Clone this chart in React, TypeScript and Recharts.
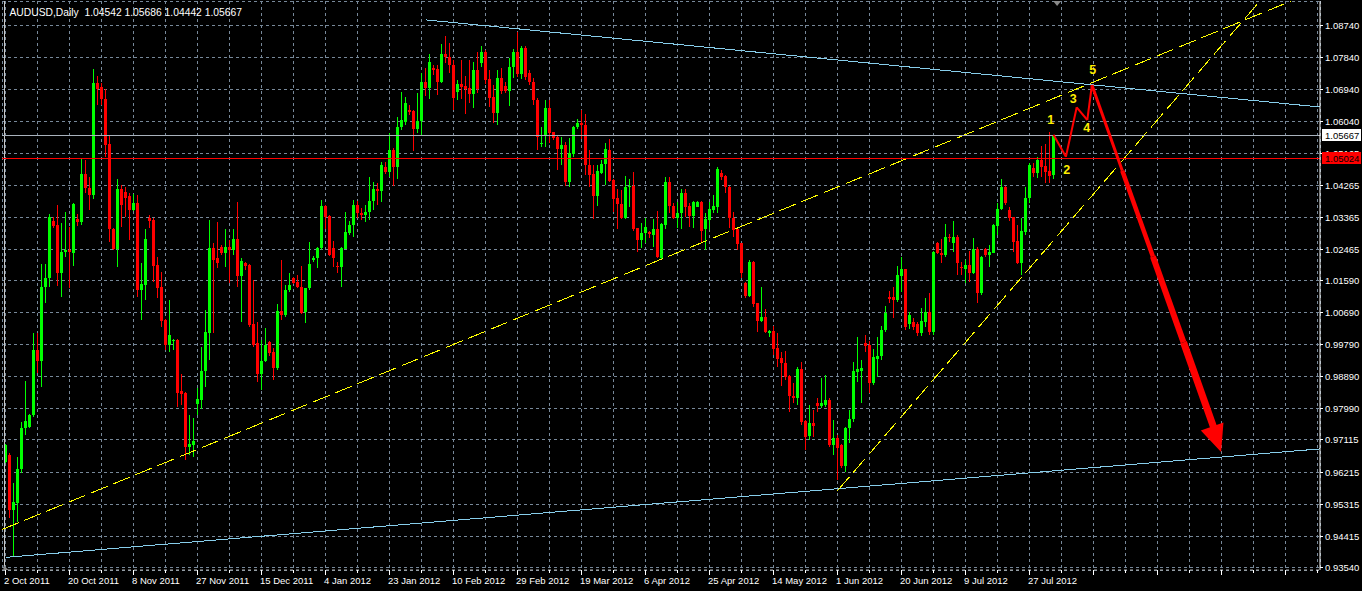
import React from "react"
import { ComposedChart, Bar, XAxis, YAxis, CartesianGrid, ReferenceLine, ReferenceDot } from "recharts"

// daily AUDUSD bars (bar 0 = Sun 2 Oct 2011)
const opens = [
  0.9650, 0.9669, 0.9515, 0.9535, 0.9629, 0.9744, 0.9749, 0.9781, 0.9964, 0.9934,
  1.0140, 1.0165, 1.0325, 1.0315, 1.0179, 1.0238, 1.0245, 1.0235, 1.0331, 1.0324,
  1.0458, 1.0418, 1.0399, 1.0712, 1.0703, 1.0667, 1.0542, 1.0303, 1.0246, 1.0416,
  1.0406, 1.0397, 1.0357, 1.0376, 1.0132, 1.0146, 1.0335, 1.0329, 1.0202, 1.0140,
  1.0048, 0.9978, 0.9990, 0.9992, 0.9849, 0.9844, 0.9693, 0.9697, 0.9812, 0.9824,
  0.9904, 1.0012, 1.0251, 1.0221, 1.0254, 1.0235, 1.0254, 1.0245, 1.0275, 1.0172,
  1.0209, 1.0202, 1.0037, 0.9984, 0.9897, 0.9934, 0.9986, 0.9959, 0.9913, 1.0073,
  1.0062, 1.0132, 1.0167, 1.0155, 1.0142, 1.0071, 1.0137, 1.0216, 1.0221, 1.0251,
  1.0369, 1.0340, 1.0251, 1.0200, 1.0196, 1.0248, 1.0293, 1.0315, 1.0371, 1.0348,
  1.0343, 1.0351, 1.0382, 1.0416, 1.0411, 1.0478, 1.0464, 1.0525, 1.0477, 1.0589,
  1.0604, 1.0637, 1.0635, 1.0584, 1.0606, 1.0717, 1.0700, 1.0754, 1.0752, 1.0717,
  1.0794, 1.0785, 1.0764, 1.0689, 1.0710, 1.0705, 1.0699, 1.0682, 1.0750, 1.0768,
  1.0800, 1.0724, 1.0674, 1.0630, 1.0727, 1.0705, 1.0691, 1.0757, 1.0800, 1.0738,
  1.0811, 1.0742, 1.0717, 1.0665, 1.0542, 1.0567, 1.0642, 1.0575, 1.0561, 1.0528,
  1.0539, 1.0436, 1.0514, 1.0589, 1.0602, 1.0595, 1.0483, 1.0458, 1.0397, 1.0461,
  1.0486, 1.0525, 1.0441, 1.0391, 1.0374, 1.0333, 1.0422, 1.0424, 1.0305, 1.0273,
  1.0291, 1.0296, 1.0287, 1.0303, 1.0221, 1.0315, 1.0436, 1.0368, 1.0335, 1.0347,
  1.0404, 1.0368, 1.0340, 1.0366, 1.0380, 1.0303, 1.0329, 1.0357, 1.0366, 1.0461,
  1.0452, 1.0422, 1.0335, 1.0303, 1.0263, 1.0151, 1.0116, 1.0212, 1.0095, 1.0046,
  1.0057, 1.0011, 1.0017, 0.9970, 0.9941, 0.9928, 0.9891, 0.9836, 0.9830, 0.9911,
  0.9765, 0.9723, 0.9760, 0.9814, 0.9807, 0.9810, 0.9824, 0.9697, 0.9718, 0.9697,
  0.9638, 0.9744, 0.9769, 0.9903, 0.9905, 0.9984, 0.9978, 0.9870, 0.9939, 0.9948,
  1.0020, 1.0113, 1.0113, 1.0104, 1.0172, 1.0190, 1.0037, 1.0043, 1.0037, 1.0012,
  1.0043, 1.0071, 1.0014, 1.0265, 1.0237, 1.0230, 1.0282, 1.0263, 1.0280, 1.0198,
  1.0190, 1.0202, 1.0179, 1.0247, 1.0123, 1.0247, 1.0230, 1.0237, 1.0312, 1.0359,
  1.0422, 1.0357, 1.0336, 1.0270, 1.0209, 1.0296, 1.0390, 1.0475, 1.0460, 1.0497,
  1.0480, 1.0466, 1.04542,
]
const highs = [
  0.9700, 0.9675, 0.9591, 0.9664, 0.9763, 0.9878, 0.9784, 1.0011, 1.0011, 1.0205,
  1.0205, 1.0346, 1.0336, 1.0371, 1.0319, 1.0350, 1.0310, 1.0376, 1.0345, 1.0500,
  1.0497, 1.0450, 1.0752, 1.0734, 1.0712, 1.0697, 1.0567, 1.0305, 1.0444, 1.0427,
  1.0422, 1.0404, 1.0401, 1.0399, 1.0207, 1.0303, 1.0343, 1.0333, 1.0226, 1.0184,
  1.0050, 1.0104, 0.9994, 0.9994, 0.9897, 0.9846, 0.9782, 0.9772, 0.9856, 0.9971,
  1.0076, 1.0329, 1.0263, 1.0324, 1.0258, 1.0303, 1.0273, 1.0303, 1.0380, 1.0221,
  1.0212, 1.0204, 1.0160, 1.0043, 0.9992, 1.0025, 0.9988, 0.9969, 1.0093, 1.0216,
  1.0146, 1.0179, 1.0169, 1.0174, 1.0200, 1.0139, 1.0268, 1.0228, 1.0253, 1.0385,
  1.0371, 1.0342, 1.0270, 1.0212, 1.0253, 1.0352, 1.0327, 1.0385, 1.0382, 1.0362,
  1.0371, 1.0450, 1.0434, 1.0432, 1.0491, 1.0491, 1.0572, 1.0530, 1.0619, 1.0689,
  1.0674, 1.0651, 1.0637, 1.0684, 1.0740, 1.0754, 1.0794, 1.0764, 1.0764, 1.0823,
  1.0845, 1.0826, 1.0778, 1.0722, 1.0778, 1.0733, 1.0778, 1.0773, 1.0799, 1.0817,
  1.0806, 1.0750, 1.0707, 1.0750, 1.0754, 1.0715, 1.0782, 1.0808, 1.0857, 1.0817,
  1.0817, 1.0750, 1.0727, 1.0671, 1.0590, 1.0665, 1.0665, 1.0577, 1.0563, 1.0562,
  1.0548, 1.0558, 1.0592, 1.0612, 1.0637, 1.0626, 1.0525, 1.0483, 1.0483, 1.0497,
  1.0546, 1.0556, 1.0444, 1.0415, 1.0413, 1.0452, 1.0443, 1.0464, 1.0306, 1.0319,
  1.0333, 1.0299, 1.0331, 1.0354, 1.0319, 1.0450, 1.0448, 1.0377, 1.0380, 1.0415,
  1.0415, 1.0376, 1.0382, 1.0382, 1.0382, 1.0347, 1.0378, 1.0399, 1.0477, 1.0469,
  1.0454, 1.0424, 1.0352, 1.0305, 1.0265, 1.0156, 1.0216, 1.0214, 1.0097, 1.0142,
  1.0078, 1.0020, 1.0031, 1.0012, 0.9959, 0.9961, 0.9893, 0.9872, 0.9915, 0.9930,
  0.9767, 0.9810, 0.9796, 0.9830, 0.9886, 0.9894, 0.9828, 0.9768, 0.9725, 0.9699,
  0.9749, 0.9796, 0.9931, 0.9999, 0.9936, 1.0006, 0.9990, 0.9967, 1.0001, 1.0031,
  1.0087, 1.0130, 1.0142, 1.0200, 1.0226, 1.0192, 1.0071, 1.0054, 1.0042, 1.0083,
  1.0109, 1.0124, 1.0242, 1.0268, 1.0275, 1.0317, 1.0289, 1.0327, 1.0287, 1.0212,
  1.0216, 1.0243, 1.0279, 1.0254, 1.0228, 1.0251, 1.0259, 1.0317, 1.0376, 1.0443,
  1.0424, 1.0366, 1.0338, 1.0315, 1.0333, 1.0422, 1.0488, 1.0488, 1.0505, 1.0536,
  1.0542, 1.0576, 1.05686,
]
const lows = [
  0.9646, 0.9493, 0.9384, 0.9482, 0.9618, 0.9725, 0.9745, 0.9777, 0.9899, 0.9861,
  1.0097, 1.0142, 1.0305, 1.0144, 1.0113, 1.0226, 1.0137, 1.0200, 1.0313, 1.0315,
  1.0404, 1.0357, 1.0387, 1.0651, 1.0651, 1.0506, 1.0268, 1.0244, 1.0198, 1.0310,
  1.0338, 1.0273, 1.0355, 1.0113, 1.0048, 1.0104, 1.0305, 1.0156, 1.0109, 1.0029,
  0.9964, 0.9959, 0.9964, 0.9803, 0.9810, 0.9655, 0.9669, 0.9663, 0.9782, 0.9798,
  0.9861, 0.9936, 1.0011, 1.0193, 1.0230, 1.0198, 1.0151, 1.0230, 1.0142, 1.0043,
  1.0188, 1.0029, 0.9973, 0.9875, 0.9852, 0.9931, 0.9947, 0.9880, 0.9908, 1.0048,
  1.0057, 1.0127, 1.0150, 1.0137, 1.0065, 1.0041, 1.0132, 1.0212, 1.0193, 1.0244,
  1.0303, 1.0228, 1.0198, 1.0179, 1.0142, 1.0246, 1.0287, 1.0282, 1.0334, 1.0329,
  1.0323, 1.0329, 1.0357, 1.0371, 1.0380, 1.0458, 1.0450, 1.0425, 1.0443, 1.0581,
  1.0595, 1.0623, 1.0523, 1.0572, 1.0567, 1.0677, 1.0668, 1.0736, 1.0679, 1.0713,
  1.0768, 1.0740, 1.0637, 1.0665, 1.0667, 1.0626, 1.0656, 1.0644, 1.0686, 1.0759,
  1.0710, 1.0645, 1.0602, 1.0595, 1.0682, 1.0684, 1.0649, 1.0726, 1.0729, 1.0723,
  1.0722, 1.0707, 1.0651, 1.0525, 1.0533, 1.0534, 1.0544, 1.0553, 1.0469, 1.0483,
  1.0424, 1.0420, 1.0506, 1.0584, 1.0555, 1.0455, 1.0420, 1.0332, 1.0368, 1.0458,
  1.0427, 1.0436, 1.0352, 1.0303, 1.0331, 1.0331, 1.0364, 1.0299, 1.0240, 1.0249,
  1.0265, 1.0277, 1.0254, 1.0221, 1.0219, 1.0303, 1.0347, 1.0331, 1.0305, 1.0303,
  1.0338, 1.0310, 1.0305, 1.0364, 1.0268, 1.0245, 1.0301, 1.0347, 1.0347, 1.0441,
  1.0404, 1.0305, 1.0282, 1.0245, 1.0165, 1.0109, 1.0113, 1.0085, 1.0015, 1.0043,
  1.0011, 1.0001, 0.9950, 0.9917, 0.9863, 0.9880, 0.9791, 0.9814, 0.9810, 0.9753,
  0.9683, 0.9711, 0.9721, 0.9791, 0.9800, 0.9805, 0.9693, 0.9669, 0.9599, 0.9632,
  0.9622, 0.9702, 0.9763, 0.9875, 0.9814, 0.9959, 0.9842, 0.9866, 0.9889, 0.9936,
  1.0014, 1.0095, 1.0053, 1.0099, 1.0127, 1.0020, 1.0022, 1.0020, 1.0003, 1.0003,
  1.0029, 1.0006, 1.0006, 1.0233, 1.0209, 1.0226, 1.0267, 1.0240, 1.0174, 1.0174,
  1.0151, 1.0156, 1.0177, 1.0097, 1.0118, 1.0226, 1.0198, 1.0235, 1.0287, 1.0357,
  1.0371, 1.0327, 1.0240, 1.0205, 1.0174, 1.0287, 1.0377, 1.0450, 1.0446, 1.0450,
  1.0432, 1.0432, 1.04442,
]
const closes = [
  0.9697, 0.9515, 0.9538, 0.9629, 0.9744, 0.9765, 0.9781, 0.9964, 0.9934, 1.0140,
  1.0165, 1.0336, 1.0313, 1.0179, 1.0238, 1.0245, 1.0238, 1.0374, 1.0324, 1.0458,
  1.0418, 1.0399, 1.0714, 1.0695, 1.0667, 1.0539, 1.0303, 1.0246, 1.0416, 1.0371,
  1.0391, 1.0357, 1.0377, 1.0132, 1.0149, 1.0275, 1.0326, 1.0200, 1.0139, 1.0045,
  0.9978, 1.0005, 0.9992, 0.9844, 0.9841, 0.9693, 0.9700, 0.9708, 0.9827, 0.9905,
  1.0015, 1.0251, 1.0216, 1.0207, 1.0235, 1.0254, 1.0245, 1.0275, 1.0172, 1.0214,
  1.0200, 1.0034, 0.9978, 0.9897, 0.9934, 0.9978, 0.9955, 0.9913, 1.0073, 1.0062,
  1.0132, 1.0146, 1.0153, 1.0142, 1.0067, 1.0137, 1.0205, 1.0223, 1.0251, 1.0369,
  1.0338, 1.0230, 1.0223, 1.0196, 1.0251, 1.0295, 1.0315, 1.0371, 1.0348, 1.0343,
  1.0351, 1.0382, 1.0416, 1.0411, 1.0483, 1.0464, 1.0525, 1.0477, 1.0589, 1.0609,
  1.0658, 1.0633, 1.0584, 1.0606, 1.0717, 1.0700, 1.0772, 1.0750, 1.0717, 1.0794,
  1.0785, 1.0764, 1.0672, 1.0710, 1.0703, 1.0695, 1.0682, 1.0750, 1.0696, 1.0800,
  1.0722, 1.0671, 1.0630, 1.0727, 1.0691, 1.0691, 1.0757, 1.0800, 1.0738, 1.0811,
  1.0729, 1.0717, 1.0665, 1.0562, 1.0546, 1.0642, 1.0572, 1.0558, 1.0528, 1.0539,
  1.0436, 1.0518, 1.0590, 1.0602, 1.0595, 1.0483, 1.0455, 1.0397, 1.0467, 1.0486,
  1.0528, 1.0439, 1.0388, 1.0373, 1.0333, 1.0422, 1.0424, 1.0303, 1.0273, 1.0291,
  1.0310, 1.0289, 1.0303, 1.0224, 1.0317, 1.0436, 1.0368, 1.0335, 1.0347, 1.0404,
  1.0366, 1.0340, 1.0380, 1.0380, 1.0299, 1.0331, 1.0360, 1.0368, 1.0472, 1.0450,
  1.0420, 1.0333, 1.0301, 1.0261, 1.0179, 1.0116, 1.0212, 1.0093, 1.0046, 1.0056,
  1.0015, 1.0017, 0.9967, 0.9939, 0.9927, 0.9889, 0.9835, 0.9830, 0.9911, 0.9763,
  0.9721, 0.9760, 0.9751, 0.9807, 0.9814, 0.9824, 0.9697, 0.9718, 0.9690, 0.9638,
  0.9746, 0.9769, 0.9906, 0.9910, 0.9914, 0.9975, 0.9870, 0.9945, 0.9948, 1.0020,
  1.0067, 1.0106, 1.0104, 1.0174, 1.0190, 1.0029, 1.0062, 1.0029, 1.0012, 1.0046,
  1.0071, 1.0014, 1.0240, 1.0235, 1.0230, 1.0282, 1.0277, 1.0280, 1.0207, 1.0193,
  1.0202, 1.0181, 1.0247, 1.0125, 1.0226, 1.0230, 1.0240, 1.0315, 1.0359, 1.0422,
  1.0376, 1.0333, 1.0268, 1.0209, 1.0298, 1.0390, 1.0483, 1.0460, 1.0497, 1.0478,
  1.0464, 1.0453, 1.05667,
]

// one label every 16 bars, starting at bar 0
const dateLabels = [
  "2 Oct 2011", "20 Oct 2011", "8 Nov 2011", "27 Nov 2011", "15 Dec 2011", "4 Jan 2012",
  "23 Jan 2012", "10 Feb 2012", "29 Feb 2012", "19 Mar 2012", "6 Apr 2012", "25 Apr 2012",
  "14 May 2012", "1 Jun 2012", "20 Jun 2012", "9 Jul 2012", "27 Jul 2012",
]
const priceTicks = [
  1.0874, 1.0784, 1.0694, 1.0604, 1.05165, 1.04265, 1.03365, 1.02465, 1.0159,
  1.0069, 0.9979, 0.9889, 0.9799, 0.97115, 0.96215, 0.95315, 0.94415, 0.9354,
]
const priceLabels = [
  "1.08740", "1.07840", "1.06940", "1.06040", "1.05165", "1.04265", "1.03365", "1.02465", "1.01590",
  "1.00690", "0.99790", "0.98890", "0.97990", "0.97115", "0.96215", "0.95315", "0.94415", "0.93540",
]

const header = "AUDUSD,Daily  1.04542 1.05686 1.04442 1.05667"
const bidPrice = 1.05667
const levelPrice = 1.05024
const priceTags = [
  { value: bidPrice, text: "1.05667", bg: "#ffffff" },
  { value: levelPrice, text: "1.05024", bg: "#ff0000" },
]

// trend lines: [bar, price] end points
const channelLines = [
  { from: [105, 1.08903], to: [328.6, 1.06458], color: "#87ceeb", dash: undefined },
  { from: [0, 0.9382], to: [328.6, 0.96864], color: "#87ceeb", dash: undefined },
  { from: [-0.875, 0.94602], to: [324, 1.0955], color: "#ffff00", dash: "18 6" },
  { from: [208, 0.95691], to: [316, 1.0974], color: "#ffff00", dash: "18 6" },
]

// hand drawn wave count
const wavePath = [
  [262, 1.0568], [265.1, 1.05063], [267.8, 1.06449], [270.45, 1.06093], [271.6, 1.07075],
]
const waveLabels = [
  { text: "1", at: [261.3, 1.06093] },
  { text: "2", at: [265.3, 1.0471] },
  { text: "3", at: [266.95, 1.06702] },
  { text: "4", at: [270.3, 1.05877] },
  { text: "5", at: [271.8, 1.07496] },
]
const arrowShaft = [
  { from: [271.6, 1.07075], to: [279.2, 1.04669], w: 3 },
  { from: [279.2, 1.04669], to: [286.85, 1.02263], w: 4.5 },
  { from: [286.85, 1.02263], to: [294.5, 0.99856], w: 6 },
  { from: [294.5, 0.99856], to: [302.1, 0.9745], w: 7 },
]
const arrowTip = [303.9, 0.96777]

const Y_MIN = 0.93466
const Y_MAX = 1.09432
const X_MIN = -0.875
const X_MAX = 328.625
const FONT = "'Liberation Sans', Arial, sans-serif"

const bars = opens.map((o, i) => ({ i, o, h: highs[i], l: lows[i], c: closes[i] }))
const gridTicks = Array.from({ length: 42 }, (_, k) => k * 8)

const Candle = (props: any) => {
  const { x, y, width, height, payload } = props
  if (!payload || payload.h == null || !isFinite(y) || !isFinite(height)) return null
  const { o, h, l, c } = payload
  const color = c >= o ? "#00ff00" : "#ff0000"
  const top = Math.min(y, y + height)
  const bottom = Math.max(y, y + height)
  const toY = (v: number) => top + ((h - v) / (h - l)) * (bottom - top)
  const mid = x + width / 2
  const bTop = toY(Math.max(o, c))
  const bBot = toY(Math.min(o, c))
  return (
    <g shapeRendering="crispEdges">
      <rect x={Math.round(mid - 0.5)} y={top} width={1} height={Math.max(bottom - top, 1)} fill={color} />
      <rect x={Math.round(mid - 1.5)} y={bTop} width={3} height={Math.max(bBot - bTop, 1)} fill={color} />
    </g>
  )
}

const DateTick = (props: any) => {
  const { x, y, payload } = props
  const idx = payload.value
  const major = idx % 16 === 0
  const label = major ? dateLabels[idx / 16] : undefined
  return (
    <g>
      <line x1={x} x2={x} y1={y} y2={y + (major ? 5 : 3)} stroke="#ffffff" shapeRendering="crispEdges" />
      {label && (
        <text x={x - 1.5} y={y + 14} fill="#ffffff" fontSize={9.5} fontFamily={FONT}>
          {label}
        </text>
      )}
    </g>
  )
}

const PriceTick = (props: any) => {
  const { x, y, payload } = props
  const k = priceTicks.indexOf(payload.value)
  return (
    <g>
      <line x1={x} x2={x + 3} y1={y} y2={y} stroke="#ffffff" shapeRendering="crispEdges" />
      <text x={x + 5} y={y + 3.5} fill="#ffffff" fontSize={9.5} fontFamily={FONT}>
        {priceLabels[k]}
      </text>
    </g>
  )
}

// drawn by a thin axis placed after the price axis, so the tags cover its labels
const TagTick = (props: any) => {
  const { x, y, payload } = props
  const tag = priceTags.find((t) => Math.abs(t.value - payload.value) < 1e-7)
  if (!tag) return null
  return (
    <g>
      <rect x={x - 38} y={y - 6} width={39} height={12} fill={tag.bg} shapeRendering="crispEdges" />
      <text x={x - 35} y={y + 3.5} fill="#000000" fontSize={9.5} fontFamily={FONT}>
        {tag.text}
      </text>
    </g>
  )
}

export default function App() {
  const [ux, uy] = [0.3316, 0.9434]
  return (
    <div style={{ position: "absolute", left: 0, top: 0, width: 1362, height: 591, background: "#000000" }}>
      <ComposedChart
        width={1362}
        height={591}
        data={bars}
        margin={{ top: 1, right: 0, bottom: 0, left: 2 }}
        style={{ background: "#000000" }}
      >
        <CartesianGrid stroke="#778899" strokeDasharray="3 3" shapeRendering="crispEdges" />
        <XAxis
          dataKey="i"
          type="number"
          domain={[X_MIN, X_MAX]}
          allowDataOverflow
          ticks={gridTicks}
          interval={0}
          height={21}
          tickSize={0}
          tickMargin={0}
          tickLine={false}
          axisLine={{ stroke: "#b4b4b4", strokeDasharray: "3 3" }}
          tick={<DateTick />}
        />
        <YAxis
          orientation="right"
          type="number"
          domain={[Y_MIN, Y_MAX]}
          allowDataOverflow
          ticks={priceTicks}
          interval={0}
          width={40}
          tickSize={0}
          tickMargin={0}
          tickLine={false}
          axisLine={{ stroke: "#ffffff" }}
          tick={<PriceTick />}
        />
        <YAxis
          yAxisId="tags"
          orientation="right"
          type="number"
          domain={[Y_MIN, Y_MAX]}
          allowDataOverflow
          ticks={priceTags.map((t) => t.value)}
          interval={0}
          width={2}
          tickSize={0}
          tickMargin={0}
          tickLine={false}
          axisLine={false}
          tick={<TagTick />}
        />
        <ReferenceLine x={-0.25} stroke="#c8c8c8" shapeRendering="crispEdges" />
        {channelLines.map((ln, k) => (
          <ReferenceLine
            key={"ch" + k}
            segment={[
              { x: ln.from[0], y: ln.from[1] },
              { x: ln.to[0], y: ln.to[1] },
            ]}
            stroke={ln.color}
            strokeDasharray={ln.dash}
            ifOverflow="hidden"
            shapeRendering="crispEdges"
          />
        ))}
        <ReferenceLine y={bidPrice} stroke="#a9b2bc" shapeRendering="crispEdges" />
        <ReferenceLine y={levelPrice} stroke="#ff0000" shapeRendering="crispEdges" />
        <Bar dataKey={(d: any) => [d.l, d.h]} barSize={3} shape={<Candle />} isAnimationActive={false} />
        {wavePath.slice(1).map((pt, k) => (
          <ReferenceLine
            key={"w" + k}
            segment={[
              { x: wavePath[k][0], y: wavePath[k][1] },
              { x: pt[0], y: pt[1] },
            ]}
            stroke="#ff0000"
            strokeWidth={2}
            ifOverflow="visible"
          />
        ))}
        {arrowShaft.map((s, k) => (
          <ReferenceLine
            key={"a" + k}
            segment={[
              { x: s.from[0], y: s.from[1] },
              { x: s.to[0], y: s.to[1] },
            ]}
            stroke="#ff0000"
            strokeWidth={s.w}
            ifOverflow="visible"
          />
        ))}
        <ReferenceDot
          x={arrowTip[0]}
          y={arrowTip[1]}
          r={0}
          ifOverflow="visible"
          shape={(p: any) => {
            const bx = p.cx - ux * 27
            const by = p.cy - uy * 27
            const pts = [
              [p.cx, p.cy],
              [bx + uy * 12, by - ux * 12],
              [bx - uy * 12, by + ux * 12],
            ]
            return <polygon points={pts.map((q) => q.join(",")).join(" ")} fill="#ff0000" />
          }}
        />
        {waveLabels.map((w) => (
          <ReferenceDot
            key={"l" + w.text}
            x={w.at[0]}
            y={w.at[1]}
            r={0}
            ifOverflow="visible"
            shape={(p: any) => (
              <text
                x={p.cx}
                y={p.cy + 4.5}
                textAnchor="middle"
                fill="#ffee00"
                fontSize={12.5}
                fontWeight="bold"
                fontFamily={FONT}
              >
                {w.text}
              </text>
            )}
          />
        ))}
        <ReferenceDot
          x={262.9}
          y={Y_MAX}
          r={0}
          ifOverflow="visible"
          shape={(p: any) => (
            <polygon points={`${p.cx - 4},${p.cy} ${p.cx + 4},${p.cy} ${p.cx},${p.cy + 5}`} fill="#8a8a8a" />
          )}
        />
        <ReferenceDot
          x={-0.5}
          y={Y_MIN}
          r={0}
          ifOverflow="visible"
          shape={(p: any) => (
            <polygon points={`${p.cx},${p.cy - 5} ${p.cx},${p.cy} ${p.cx + 5},${p.cy}`} fill="#8a8a8a" />
          )}
        />
      </ComposedChart>
      <div
        style={{
          position: "absolute",
          left: 9.5,
          top: 6.5,
          color: "#ffffff",
          fontSize: 10.3,
          lineHeight: "11px",
          fontFamily: FONT,
          whiteSpace: "pre",
        }}
      >
        {header}
      </div>
    </div>
  )
}
